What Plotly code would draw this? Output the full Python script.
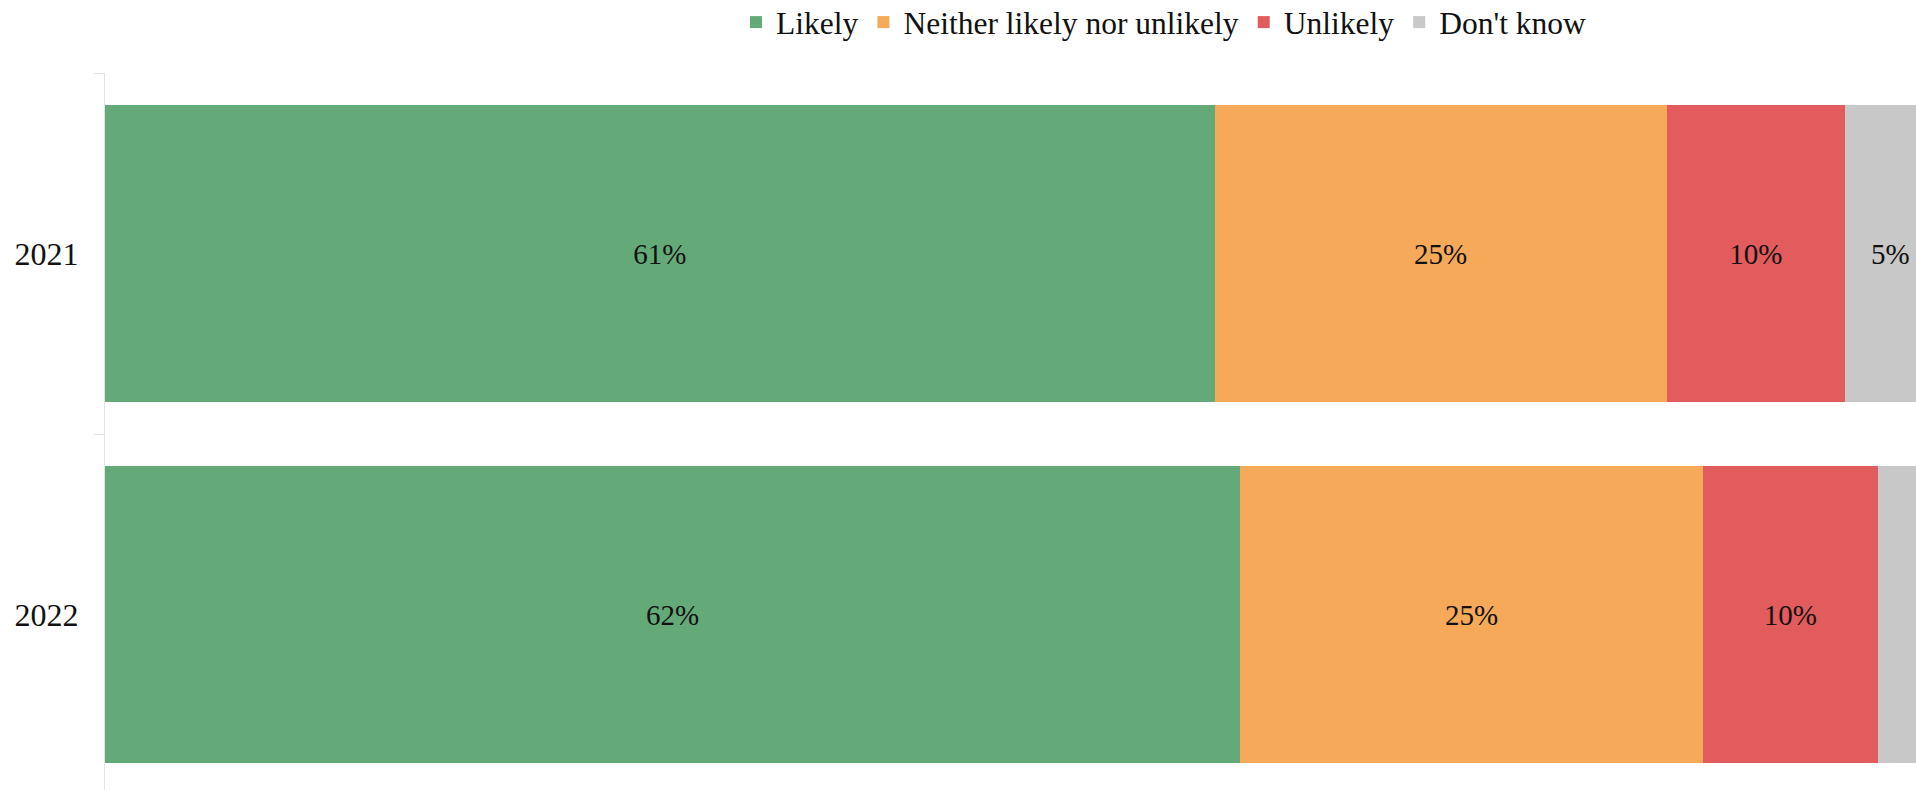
import plotly.graph_objects as go

years = ["2021", "2022"]
series_names = ["Likely", "Neither likely nor unlikely", "Unlikely", "Don't know"]
likely = [61.0, 62.4]
neither = [24.85, 25.45]
unlikely = [9.8, 9.6]
dont_know = [5.0, 4.5]
dont_know_labels = ["5%", ""]
colors = ["#64AA79", "#F5A959", "#E25B5D", "#C8C8C8"]

values = [likely, neither, unlikely, dont_know]
FONT = "Georgia, 'Liberation Serif', 'DejaVu Serif', serif"

fig = go.Figure()
for i, (name, vals, col) in enumerate(zip(series_names, values, colors)):
    if name == "Don't know":
        txt = dont_know_labels
    else:
        txt = [f"{round(v)}%" for v in vals]
    fig.add_trace(go.Bar(
        y=years, x=vals, name=name, orientation="h",
        marker=dict(color=col, line=dict(width=0)),
        text=txt, textposition="inside", insidetextanchor="middle",
        textangle=0,
        textfont=dict(family=FONT, size=29, color="#111111"),
        hoverinfo="skip",
    ))

fig.update_layout(
    barmode="stack",
    bargap=0.175,
    width=1916, height=790,
    margin=dict(l=105, r=0, t=73, b=0, autoexpand=False),
    plot_bgcolor="white", paper_bgcolor="white",
    font=dict(family=FONT, color="#111111"),
    uniformtext=dict(mode="show", minsize=10),
    legend=dict(
        orientation="h", xref="container", yref="container",
        x=0.6075, xanchor="center", y=0.972, yanchor="middle",
        font=dict(family=FONT, size=31.5, color="#111111"),
        traceorder="normal", itemclick=False,
    ),
    showlegend=True,
)
fig.update_xaxes(range=[0, 99.56], visible=False, showgrid=False, zeroline=False,
                 automargin=False)
fig.update_yaxes(
    type="category", range=[1.486, -0.5], automargin=False,
    showline=True, linecolor="#E3E3E3", linewidth=1,
    ticks="outside", tickson="boundaries", ticklen=10, tickcolor="#E3E3E3",
    showgrid=False, zeroline=False,
    tickfont=dict(family=FONT, size=32, color="#111111"),
    ticklabelstandoff=19,
)

fig.write_html(
    "out.html",
    config={"displayModeBar": False},
    post_script="document.body.style.margin='0';document.body.style.overflow='hidden';",
)
